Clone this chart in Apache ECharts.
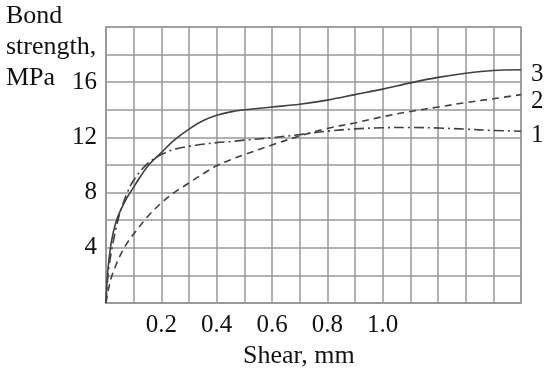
<!DOCTYPE html>
<html>
<head>
<meta charset="utf-8">
<script src="https://cdn.jsdelivr.net/npm/echarts@6/dist/echarts.min.js"></script>
<style>html,body{margin:0;padding:0;background:#fff;}#c{width:550px;height:371px;}</style>
</head>
<body>
<div id="c"></div>
<script>
var shear   = [0, 0.005, 0.01, 0.02, 0.035, 0.05, 0.075, 0.1, 0.15, 0.2, 0.25, 0.3, 0.35, 0.4, 0.45, 0.5, 0.6, 0.7, 0.8, 0.9, 1.0, 1.1, 1.2, 1.3, 1.4, 1.5];
var curve1  = [0, 1.5, 2.5, 3.8, 5.3, 6.5, 7.9, 8.9, 10.1, 10.75, 11.15, 11.35, 11.5, 11.62, 11.7, 11.8, 11.98, 12.2, 12.45, 12.62, 12.7, 12.72, 12.68, 12.6, 12.5, 12.45];
var curve2  = [0, 0.6, 1.1, 1.9, 2.7, 3.4, 4.3, 5.0, 6.25, 7.25, 8.05, 8.7, 9.35, 9.95, 10.38, 10.75, 11.45, 12.1, 12.65, 13.05, 13.5, 13.88, 14.2, 14.52, 14.8, 15.1];
var curve3  = [0, 2.0, 3.0, 4.5, 5.8, 6.6, 7.6, 8.4, 9.9, 10.9, 11.85, 12.6, 13.2, 13.6, 13.85, 14.0, 14.2, 14.4, 14.7, 15.1, 15.5, 15.95, 16.35, 16.65, 16.85, 16.9];
var seriesNames = ['1', '2', '3'];
var xTickLabels = ['0.2', '0.4', '0.6', '0.8', '1.0'];
var yTickLabels = ['4', '8', '12', '16'];

function pairs(ys) { return shear.map(function (x, i) { return [x, ys[i]]; }); }

var FONT = 'Liberation Serif';
var chart = echarts.init(document.getElementById('c'), null, {renderer: 'canvas'});
var lineColor = '#404040';
function mk(name, ys, type, offY) {
  return {
    type: 'line', name: name, data: pairs(ys), smooth: 0.35, symbol: 'none',
    lineStyle: {color: lineColor, width: 1.6, type: type},
    endLabel: {show: true, formatter: name, color: '#111', fontFamily: FONT, fontSize: 25, distance: 10, offset: [0, offY]},
    z: 5
  };
}
chart.setOption({
  animation: false,
  grid: {left: 106, top: 27, width: 415, height: 276, show: true, borderColor: '#999', borderWidth: 1.5},
  xAxis: {
    type: 'value', min: 0, max: 1.5, interval: 0.1,
    axisLine: {show: true, lineStyle: {color: '#999', width: 1.5}},
    axisTick: {show: false},
    splitLine: {show: true, lineStyle: {color: '#999', width: 1.5}},
    axisLabel: {
      color: '#111', fontFamily: FONT, fontSize: 25, margin: 10,
      formatter: function (v) { var s = (Math.round(v * 10) / 10).toFixed(1); return xTickLabels.indexOf(s) >= 0 ? s : ''; }
    }
  },
  yAxis: {
    type: 'value', min: 0, max: 20, interval: 2,
    axisLine: {show: true, lineStyle: {color: '#999', width: 1.5}},
    axisTick: {show: false},
    splitLine: {show: true, lineStyle: {color: '#999', width: 1.5}},
    axisLabel: {
      color: '#111', fontFamily: FONT, fontSize: 25, margin: 9, padding: [0, 0, 5, 0],
      formatter: function (v) { var s = String(Math.round(v)); return yTickLabels.indexOf(s) >= 0 ? s : ''; }
    }
  },
  graphic: [
    {type: 'text', left: 6, top: 1, style: {text: 'Bond\nstrength,\nMPa', fill: '#111', font: '26px "Liberation Serif"', lineHeight: 31}},
    {type: 'text', left: 243, top: 343, style: {text: 'Shear, mm', fill: '#111', font: '26px "Liberation Serif"'}}
  ],
  series: [
    mk(seriesNames[0], curve1, [10, 4, 2, 4], 4),
    mk(seriesNames[1], curve2, [7, 5], 7),
    mk(seriesNames[2], curve3, 'solid', 5)
  ]
});
</script>
</body>
</html>
